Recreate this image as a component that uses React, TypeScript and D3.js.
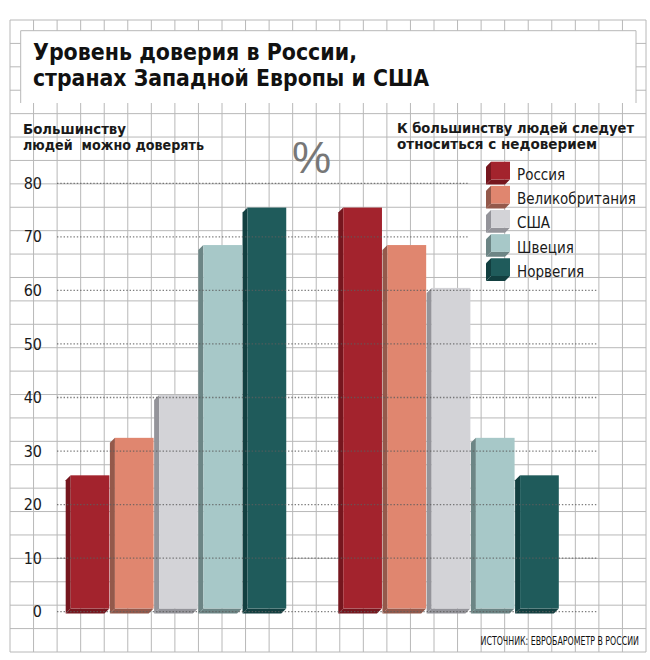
import React from "react";
import * as d3 from "d3";

// categories and values
const countries = ["Россия", "Великобритания", "США", "Швеция", "Норвегия"];
const groups = ["trust", "distrust"];
const trustValues = [25, 32, 40, 68, 75];
const distrustValues = [75, 68, 60, 32, 25];
const yTicks = [0, 10, 20, 30, 40, 50, 60, 70, 80];

const titleLines = ["Уровень доверия в России,", "странах Западной Европы и США"];
const leftNote = ["Большинству", "людей  можно доверять"];
const rightNote = ["К большинству людей следует", "относиться с недоверием"];
const source = "ИСТОЧНИК: ЕВРОБАРОМЕТР В РОССИИ";

const frontColors = ["#a3232d", "#e0866f", "#d3d3d7", "#a7c8c8", "#1f5b5b"];
const sideColors = ["#76161e", "#94594b", "#94949a", "#6c8585", "#123f40"];

// widths the texts take in the reference (its font is a condensed one)
const titleWidths = [324, 396];
const leftNoteWidths = [103, 181];
const rightNoteWidths = [237, 200];

const W = 650;
const H = 660;
const narrow = "'Liberation Sans Narrow', 'Arial Narrow', 'DejaVu Sans Condensed', 'Liberation Sans', sans-serif";

export default function App() {
  // background grid: 27 x 27 cells inside the frame
  const gx = d3.range(28).map((i) => 10 + i * (636 / 27));
  const gy = d3.range(28).map((j) => 20 + j * (632 / 27));

  const y = d3.scaleLinear().domain([0, 80]).range([611.7, 183.3]);
  const groupX = d3.scaleBand().domain(groups).range([65.7, 559.3]).paddingInner(0.189);
  const barX = d3.scaleBand().domain(countries).range([0, groupX.bandwidth()]);
  const colorFront = d3.scaleOrdinal<string, string>().domain(countries).range(frontColors);
  const colorSide = d3.scaleOrdinal<string, string>().domain(countries).range(sideColors);

  const depth = 5;
  const legendX = 486;
  const legendY = d3.scaleBand().domain(countries).range([161.7, 280]).paddingInner(0.1);
  const legendBottom = 280;

  const box = (x0: number, x1: number, top: number, bottom: number, c: string, key: string) => {
    const side = `M${x0 + depth},${top} L${x0},${top + depth} L${x0},${bottom + depth} L${x0 + depth},${bottom} Z`;
    const floor = `M${x0 + depth},${bottom} L${x0},${bottom + depth} L${x1 - depth},${bottom + depth} L${x1},${bottom} Z`;
    return (
      <g key={key}>
        <path d={side} fill={colorSide(c)} />
        <path d={floor} fill={colorSide(c)} />
        <rect x={x0 + depth} y={top} width={x1 - x0 - depth} height={bottom - top} fill={colorFront(c)} />
      </g>
    );
  };

  const bars = groups.flatMap((g) => {
    const vals = g === "trust" ? trustValues : distrustValues;
    return countries.map((c, i) => {
      const x0 = groupX(g)! + barX(c)!;
      const x1 = x0 + barX.bandwidth() - 0.5;
      return box(x0, x1, y(vals[i]) - 2.5, y(0) - 3.3, c, g + c);
    });
  });

  return (
    <svg width={W} height={H} style={{ position: "absolute", left: 0, top: 0, background: "#fff" }}>
      <rect x={0} y={0} width={W} height={H} fill="#fff" />
      <g stroke="#b8b8b8" strokeWidth={1}>
        {gx.map((x, i) => (
          <line key={"v" + i} x1={x} x2={x} y1={20} y2={652} />
        ))}
        {gy.map((yy, j) => (
          <line key={"h" + j} x1={10} x2={646} y1={yy} y2={yy} />
        ))}
      </g>

      {/* title box */}
      <rect x={20.7} y={30.7} width={615.3} height={72.3} fill="#fff" />
      <path d="M20.7,103 V30.7 H636 V103" fill="none" stroke="#b8b8b8" />
      {titleLines.map((t, i) => (
        <text key={t} x={33} y={60 + i * 26} fontFamily={narrow} fontWeight="bold" fontSize={23}
          fill="#111" textLength={titleWidths[i]} lengthAdjust="spacingAndGlyphs">
          {t}
        </text>
      ))}

      {leftNote.map((t, i) => (
        <text key={t} x={23} y={133.5 + i * 16} fontFamily={narrow} fontWeight="bold" fontSize={13.5}
          fill="#1a1a1a" xmlSpace="preserve" textLength={leftNoteWidths[i]} lengthAdjust="spacingAndGlyphs">
          {t}
        </text>
      ))}
      {rightNote.map((t, i) => (
        <text key={t} x={397} y={132.5 + i * 16.5} fontFamily={narrow} fontWeight="bold" fontSize={13.5}
          fill="#1a1a1a" textLength={rightNoteWidths[i]} lengthAdjust="spacingAndGlyphs">
          {t}
        </text>
      ))}

      <text x={292} y={173} fontFamily="'Liberation Sans', sans-serif" fontSize={44} fill="#777">%</text>

      {bars}

      {/* dotted value lines over the bars */}
      <g stroke="#5e5e5e" strokeWidth={1.3} strokeDasharray="1.4,1.9" opacity={0.8}>
        {yTicks.map((t) => (
          <line key={"d" + t} x1={57} x2={y(t) < legendBottom ? 468 : 597} y1={y(t)} y2={y(t)} />
        ))}
      </g>
      {yTicks.map((t) => (
        <text key={"l" + t} x={42} y={y(t)} dy="0.35em" textAnchor="end" fontFamily={narrow} fontSize={16} fill="#1a1a1a">
          {t}
        </text>
      ))}

      {/* legend */}
      {countries.map((c) => {
        const top = legendY(c)!;
        return (
          <g key={"lg" + c}>
            {box(legendX, legendX + 24, top, top + legendY.bandwidth() - 4, c, "b" + c)}
            <text x={517} y={top + 18.5} fontFamily={narrow} fontSize={15} fill="#1a1a1a">
              {c}
            </text>
          </g>
        );
      })}

      <g transform="translate(639,645) scale(0.76,1)">
        <text x={0} y={0} textAnchor="end" fontFamily={narrow} fontSize={11.5} fill="#111">
          {source}
        </text>
      </g>
    </svg>
  );
}
